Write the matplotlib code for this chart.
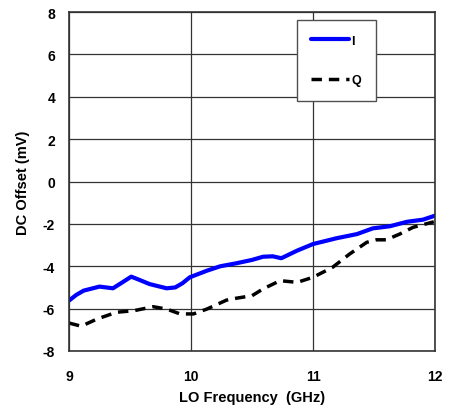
import matplotlib.pyplot as plt

plt.rcParams['font.family'] = ['Liberation Sans', 'DejaVu Sans']
plt.rcParams['font.weight'] = 'bold'
plt.rcParams['axes.unicode_minus'] = False

# I channel DC offset (mV) vs LO frequency (GHz)
i_freq = [9.0, 9.06, 9.12, 9.25, 9.36, 9.44, 9.51, 9.58, 9.66, 9.80, 9.87, 9.93, 9.99, 10.13,
          10.24, 10.37, 10.50, 10.59, 10.67, 10.74, 10.87, 11.0, 11.19, 11.36, 11.49, 11.63,
          11.77, 11.90, 12.0]
i_offset = [-5.62, -5.35, -5.15, -4.96, -5.04, -4.75, -4.49, -4.65, -4.84, -5.04, -5.0, -4.8,
            -4.52, -4.21, -4.0, -3.86, -3.7, -3.55, -3.53, -3.62, -3.26, -2.95, -2.68, -2.48,
            -2.21, -2.11, -1.90, -1.80, -1.61]

# Q channel
q_freq = [9.0, 9.10, 9.23, 9.39, 9.53, 9.69, 9.80, 9.91, 10.02, 10.13, 10.29, 10.37,
          10.50, 10.59, 10.73, 10.87, 11.0, 11.16, 11.30, 11.44, 11.52, 11.60, 11.71, 11.82, 11.99]
q_offset = [-6.68, -6.83, -6.49, -6.17, -6.10, -5.91, -6.02, -6.25, -6.25, -6.02, -5.6, -5.51,
            -5.39, -5.07, -4.68, -4.76, -4.52, -4.05, -3.42, -2.87, -2.75, -2.75, -2.48, -2.16, -1.90]

fig = plt.figure(figsize=(4.57, 4.1), dpi=100)
ax = fig.add_axes([0.151, 0.1415, 0.801, 0.8265])

ax.plot(i_freq, i_offset, color='#0000ff', lw=3, label='I',
        solid_capstyle='round', solid_joinstyle='round')
ax.plot(q_freq, q_offset, color='black', lw=2.5, ls=(0, (3, 2)), label='Q',
        dash_joinstyle='round')

ax.set_xlim(9, 12)
ax.set_ylim(-8, 8)
ax.set_xticks([9, 10, 11, 12])
ax.set_yticks(range(-8, 9, 2))
ax.grid(True, color='#333333', lw=0.9)
ax.tick_params(length=0, labelsize=10)
ax.tick_params(axis='x', pad=13)
ax.tick_params(axis='y', pad=10)
for s in ax.spines.values():
    s.set_color('#333333')
    s.set_linewidth(1.2)

ax.set_xlabel('LO Frequency  (GHz)', fontsize=10.5, fontweight='bold', labelpad=5)
ax.set_ylabel('DC Offset (mV)', fontsize=10.5, fontweight='bold', labelpad=9)

leg = ax.legend(loc='upper left', bbox_to_anchor=(0.623, 0.976), fontsize=9,
                handlelength=3.0, handletextpad=0.2, labelspacing=2.2, borderpad=1.15,
                borderaxespad=0, fancybox=False, framealpha=1, edgecolor='#505050')
leg.get_frame().set_linewidth(1.0)

fig.savefig('out.png', dpi=100)
